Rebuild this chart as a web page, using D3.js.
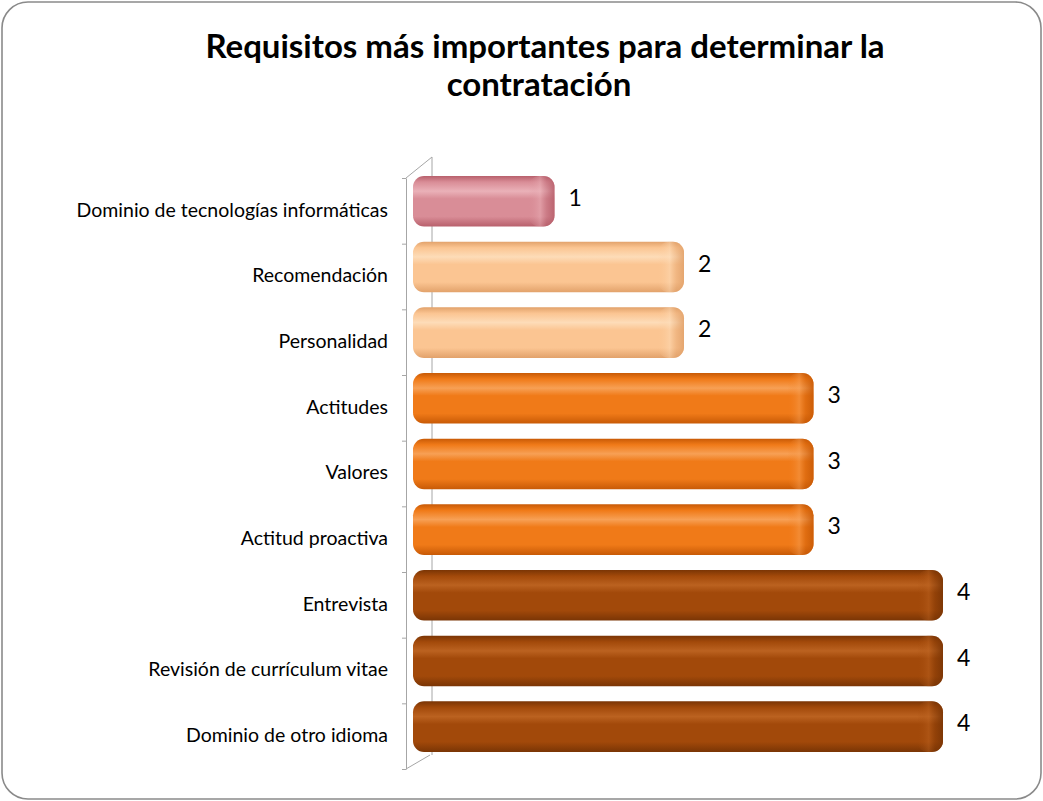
<!DOCTYPE html>
<html lang="es">
<head>
<meta charset="UTF-8">
<title>Requisitos más importantes</title>
<script src="https://cdn.jsdelivr.net/npm/d3@7"></script>
</head>
<body style="margin:0;background:#fff;">
<script>
    const categories = [
        "Dominio de tecnologías informáticas",
        "Recomendación",
        "Personalidad",
        "Actitudes",
        "Valores",
        "Actitud proactiva",
        "Entrevista",
        "Revisión de currículum vitae",
        "Dominio de otro idioma"
    ];
    const values = [1, 2, 2, 3, 3, 3, 4, 4, 4];
    const titleLines = ["Requisitos más importantes para determinar la", "contratación"];

    const width = 1043, height = 801;
    const font = "Lato, 'Noto Sans', sans-serif";

    // colour ramp by value, [edge, mid, light]
    const palette = {
        1: ["#b8606c", "#d98d97", "#eab1b8"],
        2: ["#e2a26b", "#fbc592", "#fddcb8"],
        3: ["#c85a06", "#f07a18", "#f7a055"],
        4: ["#7a3505", "#a2490a", "#bb6220"]
    };

    const svg = d3.select("body").append("svg")
        .attr("width", width)
        .attr("height", height)
        .style("display", "block");

    const defs = svg.append("defs");
    Object.entries(palette).forEach(([k, [edge, mid, light]]) => {
        const g = defs.append("linearGradient").attr("id", "g" + k)
            .attr("x1", 0).attr("y1", 0).attr("x2", 0).attr("y2", 1);
        [[0, edge], [0.12, mid], [0.3, light], [0.45, mid], [0.8, mid], [1, edge]]
            .forEach(([o, c]) => g.append("stop").attr("offset", o).attr("stop-color", c));
        const h = defs.append("linearGradient").attr("id", "cap" + k)
            .attr("x1", 0).attr("y1", 0).attr("x2", 1).attr("y2", 0);
        [[0, mid, 0], [0.45, light, 0.45], [0.7, edge, 0.4], [1, edge, 0.9]]
            .forEach(([o, c, a]) => h.append("stop").attr("offset", o).attr("stop-color", c).attr("stop-opacity", a));
    });

    // outer frame
    svg.append("rect")
        .attr("x", 2).attr("y", 2)
        .attr("width", width - 4).attr("height", height - 4)
        .attr("rx", 26)
        .attr("fill", "#fff")
        .attr("stroke", "#8a8a8a")
        .attr("stroke-width", 1.6);

    // title
    svg.append("text")
        .attr("text-anchor", "middle")
        .style("font-family", font)
        .style("font-weight", "bold")
        .style("font-size", "33px")
        .attr("fill", "#000")
        .selectAll("tspan")
        .data(titleLines)
        .join("tspan")
        .attr("x", (d, i) => i ? 539 : 545)
        .attr("y", (d, i) => 58 + i * 38)
        .text(d => d);

    const y = d3.scaleBand().domain(categories).range([178, 769]);
    const yTicks = d3.scaleLinear().domain([0, categories.length]).range([178, 769]);
    const x = d3.scaleLinear().domain([0, 4]).range([425, 943]);
    const depthX = 26, depthY = -21;

    // 3D wall lines
    const axisColor = "#a6a6a6";
    svg.append("line")
        .attr("x1", 406 + depthX).attr("y1", 178 + depthY)
        .attr("x2", 406 + depthX).attr("y2", 769 - 14)
        .attr("stroke", axisColor);
    svg.append("line")
        .attr("x1", 406).attr("y1", 178)
        .attr("x2", 406 + depthX).attr("y2", 178 + depthY)
        .attr("stroke", axisColor);
    svg.append("line")
        .attr("x1", 406).attr("y1", 769)
        .attr("x2", 406 + depthX - 2).attr("y2", 769 - 14)
        .attr("stroke", axisColor);

    svg.append("g")
        .attr("transform", "translate(406,0)")
        .call(d3.axisLeft(yTicks).ticks(categories.length).tickFormat("").tickSizeInner(4).tickSizeOuter(0))
        .call(g => g.selectAll("line, path").attr("stroke", axisColor));

    // bars
    const barH = y.bandwidth() * 0.77;
    const bars = svg.append("g").selectAll("g")
        .data(categories.map((c, i) => ({c, v: values[i]})))
        .join("g");

    bars.append("rect")
        .attr("x", x(0) - 12)
        .attr("y", d => y(d.c) - 2)
        .attr("width", d => x(d.v) - x(0) + 12)
        .attr("height", barH)
        .attr("rx", 11)
        .attr("fill", d => `url(#g${d.v})`);

    bars.append("rect")
        .attr("x", d => x(d.v) - 26)
        .attr("y", d => y(d.c) - 2)
        .attr("width", 26)
        .attr("height", barH)
        .attr("rx", 11)
        .attr("fill", d => `url(#cap${d.v})`);

    // value labels
    bars.append("text")
        .attr("x", d => x(d.v) + 14)
        .attr("y", d => y(d.c) + barH / 2 - 3)
        .attr("dominant-baseline", "middle")
        .style("font-family", font)
        .style("font-size", "23px")
        .attr("fill", "#000")
        .text(d => d.v);

    // category labels
    svg.append("g").selectAll("text")
        .data(categories)
        .join("text")
        .attr("x", 388)
        .attr("y", d => y(d) + y.bandwidth() / 2 + 1)
        .attr("text-anchor", "end")
        .attr("dominant-baseline", "middle")
        .style("font-family", font)
        .style("font-size", "19.5px")
        .attr("fill", "#000")
        .text(d => d);
</script>
</body>
</html>
